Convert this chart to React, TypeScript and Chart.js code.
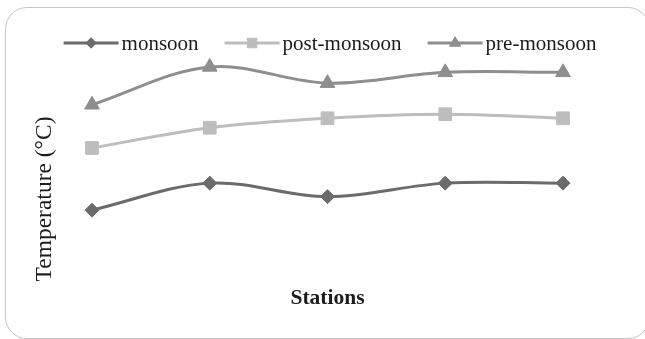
import React, { useEffect, useRef } from "react";
import { Chart, registerables } from "chart.js";
import { drawPoint } from "chart.js/helpers";

Chart.register(...registerables);

// Seasonal mean temperatures (°C) at each sampling station
const stations = ["S1", "S2", "S3", "S4", "S5"];
const monsoon = [24.0, 26.0, 25.0, 26.0, 26.0];
const postMonsoon = [28.6, 30.1, 30.8, 31.1, 30.8];
const preMonsoon = [31.8, 34.6, 33.4, 34.2, 34.2];
const seriesNames = ["monsoon", "post-monsoon", "pre-monsoon"];
const yTitle = "Temperature (°C)";
const xTitle = "Stations";

const SERIF = "'Liberation Serif', 'Times New Roman', serif";
const TEXT = "#1c1c1c";

// Legend with a short line sample and the series marker, drawn in one row,
// plus the rotated vertical axis title
const lineLegend = {
  id: "lineLegend",
  afterDraw(chart: any) {
    const ctx = chart.ctx as CanvasRenderingContext2D;
    const datasets = chart.data.datasets;
    const sample = 55;
    const textGap = 3;
    const itemGap = 26;
    const centerX = 330;
    const y = 43;
    ctx.save();
    ctx.font = `21px ${SERIF}`;
    const widths = datasets.map(
      (ds: any) => sample + textGap + ctx.measureText(ds.label).width
    );
    const total =
      widths.reduce((a: number, b: number) => a + b, 0) +
      itemGap * (datasets.length - 1);
    let x = centerX - total / 2;
    datasets.forEach((ds: any, i: number) => {
      ctx.strokeStyle = ds.borderColor;
      ctx.lineWidth = 3;
      ctx.beginPath();
      ctx.moveTo(x, y);
      ctx.lineTo(x + sample, y);
      ctx.stroke();
      ctx.fillStyle = ds.pointBackgroundColor;
      ctx.strokeStyle = ds.pointBorderColor;
      ctx.lineWidth = 1;
      drawPoint(ctx, {
        pointStyle: ds.pointStyle,
        radius: ds.pointRadius * 0.75,
        rotation: 0,
        borderWidth: 1,
      } as any, x + sample / 2, y);
      ctx.fillStyle = TEXT;
      ctx.textBaseline = "middle";
      ctx.textAlign = "left";
      ctx.fillText(ds.label, x + sample + textGap, y + 1);
      x += widths[i] + itemGap;
    });
    ctx.translate(45, 199);
    ctx.rotate(-Math.PI / 2);
    ctx.textAlign = "center";
    ctx.textBaseline = "middle";
    ctx.fillStyle = TEXT;
    ctx.font = `23.5px ${SERIF}`;
    ctx.fillText(yTitle, 0, 0);
    ctx.restore();
  },
};

export default function App() {
  const canvasRef = useRef<HTMLCanvasElement | null>(null);

  useEffect(() => {
    document.body.style.margin = "0";
    const canvas = canvasRef.current;
    if (!canvas) return;
    const mk = (
      label: string,
      data: number[],
      color: string,
      pointStyle: string,
      radius: number
    ) => ({
      label,
      data,
      borderColor: color,
      backgroundColor: color,
      pointBackgroundColor: color,
      pointBorderColor: color,
      pointBorderWidth: 1,
      pointStyle,
      pointRadius: radius,
      borderWidth: 3,
      tension: 0.35,
      clip: false as any,
    });
    const chart = new Chart(canvas, {
      type: "line",
      data: {
        labels: stations,
        datasets: [
          mk(seriesNames[0], monsoon, "#6b6b6b", "rectRot", 7),
          mk(seriesNames[1], postMonsoon, "#bdbdbd", "rect", 9),
          mk(seriesNames[2], preMonsoon, "#8e8e8e", "triangle", 8.5),
        ],
      },
      options: {
        animation: false,
        responsive: true,
        maintainAspectRatio: false,
        layout: { padding: { left: 92, right: 82, top: 48, bottom: 10 } },
        plugins: {
          legend: { display: false },
          tooltip: { enabled: false },
        },
        scales: {
          x: {
            offset: false,
            grid: { display: false, drawTicks: false },
            border: { display: false },
            ticks: { display: false },
            title: {
              display: true,
              text: xTitle,
              color: TEXT,
              font: { family: SERIF, size: 21.5, weight: "bold" },
              padding: { top: 21, bottom: 18 },
            },
          },
          y: {
            display: false,
            min: 20,
            max: 36,
          },
        },
      },
      plugins: [lineLegend],
    });
    return () => chart.destroy();
  }, []);

  return (
    <div style={{ position: "relative", width: 645, height: 339, background: "#fff", overflow: "hidden" }}>
      <div
        style={{
          position: "absolute",
          left: 5,
          top: 7,
          width: 645,
          height: 332,
          border: "1px solid #c6c6c6",
          borderRadius: 22,
          boxSizing: "border-box",
        }}
      />
      <div style={{ position: "absolute", left: 0, top: 0, width: 645, height: 339 }}>
        <canvas ref={canvasRef} />
      </div>
    </div>
  );
}
